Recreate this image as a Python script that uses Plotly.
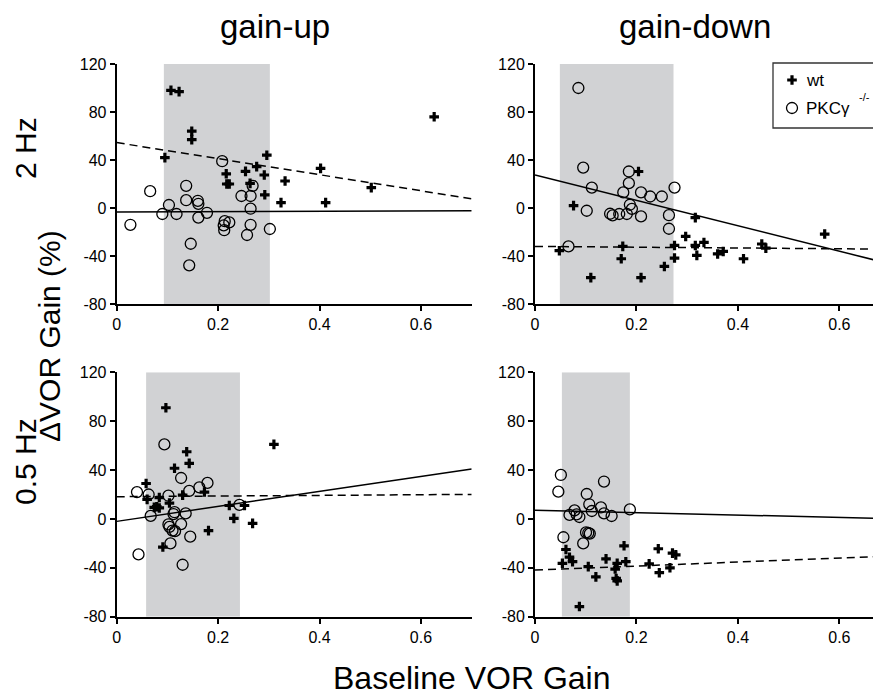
import plotly.graph_objects as go

# ---------------- data ----------------
y_tick_vals = [-80, -40, 0, 40, 80, 120]
y_tick_text = ["-80", "-40", "0", "40", "80", "120"]
x_tick_vals = [0, 0.2, 0.4, 0.6]
x_tick_text = ["0", "0.2", "0.4", "0.6"]

# Panel A: 2 Hz gain-up
a_wt_x = [0.107, 0.123, 0.148, 0.148, 0.095, 0.216, 0.217, 0.222, 0.254, 0.276, 0.296, 0.263, 0.291, 0.292, 0.324, 0.332, 0.402, 0.412, 0.502, 0.626]
a_wt_y = [98, 97, 64, 57, 42, 28.5, 20, 20, 30.5, 34.5, 44, 20.5, 27.5, 11, 4.5, 22.5, 33, 4.5, 17, 76]
a_ko_x = [0.027, 0.066, 0.090, 0.103, 0.118, 0.137, 0.137, 0.160, 0.161, 0.161, 0.146, 0.143, 0.178, 0.208, 0.213, 0.222, 0.211, 0.212, 0.246, 0.268, 0.264, 0.264, 0.264, 0.257, 0.302]
a_ko_y = [-14, 14, -5, 2.5, -5, 18.5, 6.5, 6, 3.5, -8, -29.8, -47.8, -4, 39, -11, -12, -14.5, -18.5, 10, 18.5, 10, -0.6, -14, -22.5, -17.5]

# Panel B: 2 Hz gain-down
b_wt_x = [0.048, 0.076, 0.110, 0.173, 0.170, 0.204, 0.209, 0.255, 0.275, 0.275, 0.297, 0.316, 0.316, 0.319, 0.333, 0.360, 0.371, 0.411, 0.447, 0.455, 0.571]
b_wt_y = [-35.6, 2, -58, -32, -42.3, 30.4, -58, -48.7, -31.2, -41.7, -23.7, -8, -31.2, -39.5, -28.7, -38.3, -36.2, -42.3, -30, -33.4, -21.7]
b_ko_x = [0.0855, 0.095, 0.112, 0.102, 0.066, 0.148, 0.153, 0.166, 0.181, 0.174, 0.185, 0.185, 0.187, 0.191, 0.209, 0.209, 0.227, 0.250, 0.275, 0.264, 0.264]
b_ko_y = [100, 33.7, 17, -2.3, -32, -4.8, -6.2, -5, -5, 13, 30.4, 20.7, 2.7, -0.7, 13, -7, 9.6, 9.6, 17, -6, -17.3]

# Panel C: 0.5 Hz gain-up
c_wt_x = [0.097, 0.058, 0.060, 0.084, 0.074, 0.079, 0.084, 0.104, 0.114, 0.138, 0.143, 0.130, 0.173, 0.091, 0.181, 0.222, 0.231, 0.252, 0.268, 0.310]
c_wt_y = [91, 29, 16, 17.5, 9.5, 10, 9, 13, 41.5, 55, 45.5, 19.5, 22, -23, -9.6, 11, 0.5, 11, -3.6, 61]
c_ko_x = [0.040, 0.063, 0.067, 0.043, 0.094, 0.102, 0.114, 0.112, 0.136, 0.102, 0.104, 0.110, 0.115, 0.127, 0.106, 0.145, 0.130, 0.127, 0.143, 0.163, 0.179, 0.242]
c_ko_y = [22, 20, 2.5, -29, 61, 19, 5.5, 4, 4.5, -4.5, -6.5, -9.5, -10, -4.2, -20, -14.5, -37.5, 33.5, 23, 25.8, 29.5, 11.5]

# Panel D: 0.5 Hz gain-down
d_wt_x = [0.061, 0.054, 0.068, 0.074, 0.0875, 0.105, 0.120, 0.140, 0.158, 0.160, 0.162, 0.162, 0.1755, 0.179, 0.225, 0.243, 0.245, 0.266, 0.271, 0.2775]
d_wt_y = [-25, -36.3, -31.3, -35, -71.7, -39, -47.4, -32.7, -41, -48.7, -50.7, -36.3, -22, -35, -36.8, -24.4, -44, -40, -28, -29.4]
d_ko_x = [0.051, 0.046, 0.056, 0.095, 0.068, 0.078, 0.082, 0.0875, 0.102, 0.107, 0.112, 0.1006, 0.105, 0.108, 0.130, 0.136, 0.136, 0.151, 0.187]
d_ko_y = [36, 22.3, -15, -20, 3.3, 7, 3.8, 1.6, 20.4, 12, 6.5, -11, -11.5, -12, 9.4, 30.6, 4.6, 2.4, 7.8]

# regression fits (intercept, slope)
wt_fit = [(54.5, -66.9), (-32.0, -3.3), (18.2, 2.7), (-41.8, 16.3)]
ko_fit = [(-3.4, 1.6), (27.6, -106.0), (-2.0, 61.3), (7.1, -9.8)]

# shaded normal-range bands (baseline gain)
band_lo = [0.093, 0.049, 0.058, 0.053]
band_hi = [0.302, 0.273, 0.243, 0.187]

col_titles = ["gain-up", "gain-down"]
row_titles = ["2 Hz", "0.5 Hz"]
y_title = "ΔVOR Gain (%)"
x_title = "Baseline VOR Gain"
legend_names = ["wt", "PKCγ"]
legend_sup = "-/-"

# ---------------- layout geometry ----------------
# window is 881x695; the page body has an 8px margin, so the figure is 873x687
WIN_W, WIN_H, OFF = 881, 695, 8
W, H = WIN_W - OFF, WIN_H - OFF


def px(X):
    return (X - OFF) / W


def py(Y):
    return 1 - (Y - OFF) / H


x_dom = [[px(116.7), px(471.7)], [px(535), 1.0]]
y_dom = [[py(304), py(64)], [py(616.7), py(372.3)]]
x_max = [0.70, 0.682]

panels = [
    (a_wt_x, a_wt_y, a_ko_x, a_ko_y),
    (b_wt_x, b_wt_y, b_ko_x, b_ko_y),
    (c_wt_x, c_wt_y, c_ko_x, c_ko_y),
    (d_wt_x, d_wt_y, d_ko_x, d_ko_y),
]

FONT = "Liberation Sans, Arial, Helvetica, sans-serif"
PLUS = dict(symbol="cross", size=8, color="black", line=dict(width=0))
CIRC = dict(symbol="circle-open", size=11, color="black", line=dict(width=1.3, color="black"))

fig = go.Figure()
layout = dict(
    width=W, height=H, margin=dict(l=0, r=0, t=0, b=0, autoexpand=False),
    paper_bgcolor="white", plot_bgcolor="rgba(0,0,0,0)",
    font=dict(family=FONT, color="black", size=16),
    showlegend=False,
    shapes=[], annotations=[],
)

for i, (wx, wy, kx, ky) in enumerate(panels):
    r, c = divmod(i, 2)
    n = i + 1
    xa = "xaxis" if n == 1 else f"xaxis{n}"
    ya = "yaxis" if n == 1 else f"yaxis{n}"
    xr = "x" if n == 1 else f"x{n}"
    yr = "y" if n == 1 else f"y{n}"
    xm = x_max[c]
    common = dict(showline=True, linecolor="black", linewidth=2,
                  ticks="outside", ticklen=5, tickwidth=2, tickcolor="black",
                  showgrid=False, zeroline=False, tickfont=dict(size=16),
                  automargin=False)
    layout[xa] = dict(domain=x_dom[c], range=[0, xm], anchor=yr,
                      tickvals=x_tick_vals, ticktext=x_tick_text, **common)
    layout[ya] = dict(domain=y_dom[r], range=[-80, 120], anchor=xr,
                      tickvals=y_tick_vals, ticktext=y_tick_text, **common)
    layout["shapes"].append(dict(type="rect", xref=xr, yref=yr,
                                 x0=band_lo[i], x1=band_hi[i], y0=-80, y1=120,
                                 fillcolor="#d1d2d4", line=dict(width=0), layer="below"))
    b0, b1 = wt_fit[i]
    fig.add_trace(go.Scatter(x=[0, xm], y=[b0, b0 + b1 * xm], mode="lines",
                             line=dict(color="black", width=1.5, dash="8px,5px"),
                             xaxis=xr, yaxis=yr, hoverinfo="skip"))
    b0, b1 = ko_fit[i]
    fig.add_trace(go.Scatter(x=[0, xm], y=[b0, b0 + b1 * xm], mode="lines",
                             line=dict(color="black", width=1.5),
                             xaxis=xr, yaxis=yr, hoverinfo="skip"))
    fig.add_trace(go.Scatter(x=kx, y=ky, mode="markers", name=legend_names[1],
                             marker=CIRC, xaxis=xr, yaxis=yr))
    fig.add_trace(go.Scatter(x=wx, y=wy, mode="markers", name=legend_names[0],
                             marker=PLUS, xaxis=xr, yaxis=yr))

# ---------- manual legend (window-pixel overlay axis) ----------
layout["xaxis5"] = dict(domain=[0, 1], range=[OFF, WIN_W], visible=False, fixedrange=True, anchor="y5")
layout["yaxis5"] = dict(domain=[0, 1], range=[WIN_H, OFF], visible=False, fixedrange=True, anchor="x5")
leg_box = (773, 63, 895, 128)
leg_rows = [80, 108]
leg_key_x = 792
leg_text_x = 804
fig.add_trace(go.Scatter(x=[leg_key_x], y=[leg_rows[0]], mode="markers", marker=PLUS,
                         xaxis="x5", yaxis="y5", hoverinfo="skip", cliponaxis=False))
fig.add_trace(go.Scatter(x=[leg_key_x], y=[leg_rows[1]], mode="markers", marker=CIRC,
                         xaxis="x5", yaxis="y5", hoverinfo="skip", cliponaxis=False))
layout["shapes"].append(dict(type="rect", xref="x5", yref="y5",
                             x0=leg_box[0], x1=leg_box[2], y0=leg_box[1], y1=leg_box[3],
                             line=dict(color="#333", width=1.3), fillcolor="rgba(0,0,0,0)",
                             layer="above"))

ann = layout["annotations"]
ann.append(dict(text=legend_names[0], x=leg_text_x, y=leg_rows[0], xref="x5", yref="y5",
                showarrow=False, xanchor="left", yanchor="middle", font=dict(size=17)))
ann.append(dict(text=legend_names[1], x=leg_text_x, y=leg_rows[1], xref="x5", yref="y5",
                showarrow=False, xanchor="left", yanchor="middle", font=dict(size=17)))
ann.append(dict(text=legend_sup, x=857, y=97, xref="x5", yref="y5",
                showarrow=False, xanchor="left", yanchor="middle", font=dict(size=11)))

for c, t in enumerate(col_titles):
    ann.append(dict(text=t, x=px([275, 695][c]), y=py(27), xref="paper", yref="paper",
                    showarrow=False, font=dict(size=33), xanchor="center", yanchor="middle"))
for r, t in enumerate(row_titles):
    ann.append(dict(text=t, x=px(25), y=py([148, 462][r]), xref="paper", yref="paper",
                    showarrow=False, textangle=-90, font=dict(size=30), borderpad=0,
                    xanchor="center", yanchor="middle"))
ann.append(dict(text=y_title, x=px(50), y=py(336), xref="paper", yref="paper",
                showarrow=False, textangle=-90, font=dict(size=30),
                xanchor="center", yanchor="middle"))
ann.append(dict(text=x_title, x=px(471), y=py(678), xref="paper", yref="paper",
                showarrow=False, font=dict(size=32), xanchor="center", yanchor="middle"))

fig.update_layout(**layout)
fig.write_html("out.html")
